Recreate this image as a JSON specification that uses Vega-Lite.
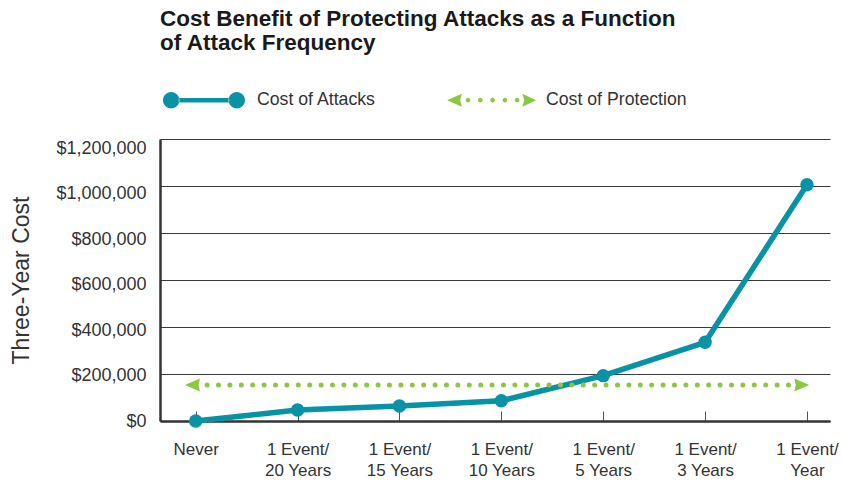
{
  "$schema": "https://vega.github.io/schema/vega-lite/v6.json",
  "width": 670,
  "height": 282,
  "autosize": "none",
  "padding": {"left": 160, "top": 139, "right": 11, "bottom": 60},
  "background": "white",
  "config": {"view": {"stroke": null}, "font": "Liberation Sans"},
  "title": {
    "text": ["Cost Benefit of Protecting Attacks as a Function", "of Attack Frequency"],
    "anchor": "start",
    "frame": "group",
    "font": "Liberation Sans",
    "fontSize": 22.5,
    "fontWeight": "bold",
    "color": "#1a1a1a",
    "lineHeight": 24,
    "offset": 1
  },
  "datasets": {
    "attacks": [
      {"freq": "Never", "cost": 0, "series": "Cost of Attacks"},
      {"freq": "1 Event/20 Years", "cost": 47000, "series": "Cost of Attacks"},
      {"freq": "1 Event/15 Years", "cost": 64000, "series": "Cost of Attacks"},
      {"freq": "1 Event/10 Years", "cost": 86000, "series": "Cost of Attacks"},
      {"freq": "1 Event/5 Years", "cost": 193000, "series": "Cost of Attacks"},
      {"freq": "1 Event/3 Years", "cost": 335000, "series": "Cost of Attacks"},
      {"freq": "1 Event/Year", "cost": 1005000, "series": "Cost of Attacks"}
    ],
    "protection": [
      {"freq": "Never", "cost": 153000, "series": "Cost of Protection"},
      {"freq": "1 Event/Year", "cost": 153000, "series": "Cost of Protection"}
    ]
  },
  "encoding": {
    "x": {
      "field": "freq",
      "type": "ordinal",
      "scale": {
        "type": "point",
        "domain": ["Never", "1 Event/20 Years", "1 Event/15 Years", "1 Event/10 Years", "1 Event/5 Years", "1 Event/3 Years", "1 Event/Year"],
        "padding": 0.288,
        "align": 0.608
      },
      "axis": {
        "title": null,
        "grid": false,
        "domainColor": "#333333",
        "domainWidth": 2.5,
        "ticks": true,
        "tickSize": -10,
        "tickColor": "#555555",
        "tickWidth": 1,
        "labelAngle": 0,
        "labelFont": "Liberation Sans",
        "labelFontSize": 17,
        "labelColor": "#333333",
        "labelPadding": 30,
        "labelLineHeight": 21.5,
        "labelBaseline": "top",
        "labelOverlap": false,
        "labelBound": false,
        "labelExpr": "indexof(datum.label, '/') > 0 ? [slice(datum.label, 0, indexof(datum.label, '/') + 1), slice(datum.label, indexof(datum.label, '/') + 1)] : datum.label"
      }
    },
    "y": {
      "field": "cost",
      "type": "quantitative",
      "scale": {"domain": [0, 1200000], "nice": false},
      "axis": {
        "title": "Three-Year Cost",
        "titleFont": "Liberation Sans",
        "titleFontSize": 23,
        "titleFontWeight": "normal",
        "titleColor": "#333333",
        "titlePadding": 22,
        "values": [0, 200000, 400000, 600000, 800000, 1000000, 1200000],
        "format": "$,.0f",
        "domainColor": "#333333",
        "domainWidth": 2.5,
        "ticks": false,
        "labelPadding": 14,
        "labelFont": "Liberation Sans",
        "labelFontSize": 18,
        "labelColor": "#333333",
        "labelOffset": {"expr": "datum.value / 1200000 * 9"},
        "grid": true,
        "gridColor": "#3a3a3a",
        "gridWidth": 1
      }
    }
  },
  "layer": [
    {
      "data": {"name": "attacks"},
      "mark": {"type": "line", "strokeWidth": 5.5, "strokeJoin": "round"},
      "encoding": {
        "color": {
          "field": "series",
          "type": "nominal",
          "scale": {"domain": ["Cost of Attacks", "Cost of Protection"], "range": ["#0892a5", "#8dc63f"]},
          "legend": {
            "title": null,
            "orient": "none",
            "legendX": 3,
            "legendY": -84,
            "direction": "horizontal",
            "columns": 2,
            "columnPadding": 71,
            "padding": 0,
            "symbolSize": 8100,
            "symbolStrokeWidth": 0,
            "labelOffset": 4,
            "labelFont": "Liberation Sans",
            "labelFontSize": 17.7,
            "labelColor": "#333333",
            "encode": {
              "symbols": {
                "update": {
                  "shape": {"signal": "datum.value === 'Cost of Attacks' ? 'M-1,0 a0.182,0.182 0 1,0 0.364,0 a0.182,0.182 0 1,0 -0.364,0 Z M0.458,0 a0.182,0.182 0 1,0 0.364,0 a0.182,0.182 0 1,0 -0.364,0 Z M-0.65,-0.05 L0.47,-0.05 L0.47,0.05 L-0.65,0.05 Z' : 'M-1.11,0 L-0.778,-0.144 L-0.82,0 L-0.778,0.144 Z M-0.695,0 a0.051,0.051 0 1,0 0.102,0 a0.051,0.051 0 1,0 -0.102,0 Z M-0.422,0 a0.051,0.051 0 1,0 0.102,0 a0.051,0.051 0 1,0 -0.102,0 Z M-0.149,0 a0.051,0.051 0 1,0 0.102,0 a0.051,0.051 0 1,0 -0.102,0 Z M0.124,0 a0.051,0.051 0 1,0 0.102,0 a0.051,0.051 0 1,0 -0.102,0 Z M0.397,0 a0.051,0.051 0 1,0 0.102,0 a0.051,0.051 0 1,0 -0.102,0 Z M0.867,0 L0.564,-0.144 L0.606,0 L0.564,0.144 Z'"},
                  "fill": {"signal": "datum.value === 'Cost of Attacks' ? '#0892a5' : '#8dc63f'"},
                  "stroke": {"value": "transparent"},
                  "strokeWidth": {"value": 0},
                  "opacity": {"value": 1},
                  "size": {"value": 8100}
                }
              }
            }
          }
        }
      }
    },
    {
      "data": {"name": "attacks"},
      "mark": {"type": "point", "shape": "circle", "filled": true, "opacity": 1, "size": 180, "color": "#0892a5"}
    },
    {
      "data": {"name": "protection"},
      "mark": {"type": "line", "strokeWidth": 5, "strokeCap": "round", "strokeDash": [0, 11.4]},
      "encoding": {
        "color": {"field": "series", "type": "nominal"}
      }
    },
    {
      "data": {"name": "protection"},
      "mark": {"type": "point", "filled": true, "opacity": 1, "size": 400, "strokeWidth": 0, "color": "#8dc63f"},
      "encoding": {
        "shape": {
          "condition": {"test": "datum.freq === 'Never'", "value": "M-1.07,0 L0.43,-0.65 L0.28,0 L0.43,0.65 Z"},
          "value": "M0.23,0 L-1.27,-0.65 L-1.12,0 L-1.27,0.65 Z"
        }
      }
    }
  ]
}
